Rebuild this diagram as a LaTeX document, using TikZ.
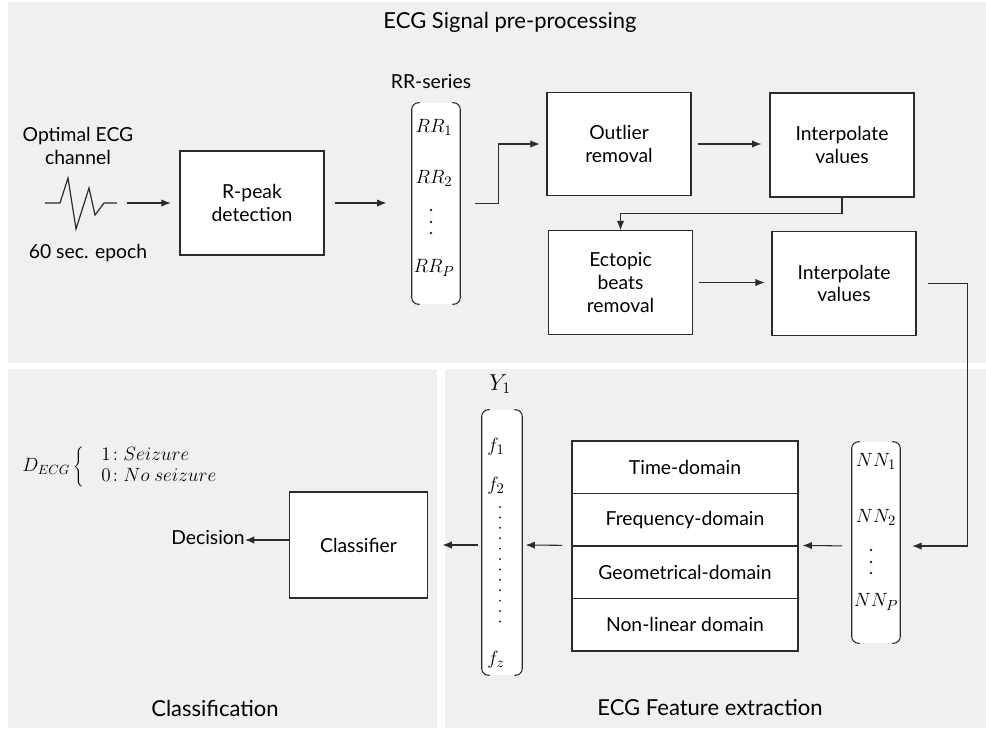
\documentclass[tikz,border=0pt]{standalone}
\usepackage{fontspec}
\setmainfont{Lato}
\usetikzlibrary{arrows.meta,calc}
\definecolor{panel}{HTML}{F0F0F0}
\definecolor{ink}{HTML}{2B2B2B}
\begin{document}
\begin{tikzpicture}[x=0.75pt,y=-0.75pt,
  font=\fontsize{14.5}{17}\selectfont,
  box/.style={draw=ink, fill=white, line width=0.9pt, align=center, inner sep=0pt, text=black},
  vec/.style={fill=white, inner sep=0pt},
  arr/.style={-{Latex[length=7pt,width=5.5pt]}, draw=ink, line width=0.8pt},
  brk/.style={draw=ink, line width=0.8pt, rounded corners=5pt},
  lbl/.style={align=center, inner sep=0pt},
  mth/.style={inner sep=0pt, font=\fontsize{15}{17}\selectfont},
  title/.style={inner sep=0pt, font=\fontsize{16.5}{20}\selectfont}]
\useasboundingbox (0,0) rectangle (986,729);
% panels
\fill[white] (0,0) rectangle (986,729);
\fill[panel] (8,2) rectangle (986,363);
\fill[panel] (8,369) rectangle (437,728);
\fill[panel] (445,369) rectangle (986,728);

% titles
\node[title] (t1) at (510,22) {ECG Signal pre-processing};
\node[title] (t2) at (215,708) {Classification};
\node[title] (t3) at (710,708) {ECG Feature extraction};

% input
\node[lbl] (opt) at (78,146) {Optimal ECG\\channel};
\node[lbl] (epoch) at (88,253) {60 sec. epoch};
\draw[ink, line width=0.9pt] (45,203) -- (60,203) -- (68,178) -- (76,229) -- (89,188) -- (95,215) -- (104,203) -- (117,203);
\coordinate (ecgout) at (127,203);

% boxes
\node[box, minimum width=108pt, minimum height=78pt] (rpeak) at (252,203) {R-peak\\detection};
\node[box, minimum width=108pt, minimum height=77pt] (outl) at (619,144) {Outlier\\removal};
\node[box, minimum width=108pt, minimum height=78pt] (int1) at (842,145) {Interpolate\\values};
\node[box, minimum width=108.5pt, minimum height=77.5pt] (ect) at (620.5,282.5) {Ectopic\\beats\\removal};
\node[box, minimum width=108pt, minimum height=77.5pt] (int2) at (844,283.5) {Interpolate\\values};
\node[box, minimum width=103pt, minimum height=79.5pt] (cls) at (358.5,545) {Classifier};

% feature table
\node[box, minimum width=169.5pt, minimum height=39.4pt] (td) at (685,467.25) {Time-domain};
\node[box, minimum width=169.5pt, minimum height=39.4pt] (fd) at (685,519.75) {Frequency-domain};
\node[box, minimum width=169.5pt, minimum height=39.4pt] (gd) at (685,572.25) {Geometrical-domain};
\node[box, minimum width=169.5pt, minimum height=39.4pt] (nd) at (685,624.75) {Non-linear domain};

% RR vector
\node[vec, minimum width=36pt, minimum height=150.75pt] (rr) at (436,203.5) {};
\node[lbl] (rrs) at (431,82) {RR-series};
\node[mth] (rr1) at (434,127) {$RR_1$};
\node[mth] (rr2) at (434,178) {$RR_2$};
\node[mth] (rrp) at (434,268) {$RR_P$};
\foreach \yy in {210,222,233} {\fill[ink] (431,\yy) circle (1.3);}

% NN vector
\node[vec, minimum width=36pt, minimum height=150.75pt] (nn) at (876,542.5) {};
\node[mth] (nn1) at (876,461) {$NN_1$};
\node[mth] (nn2) at (876,517) {$NN_2$};
\node[mth] (nnp) at (876,602) {$NN_P$};
\foreach \yy in {550,562,573} {\fill[ink] (871,\yy) circle (1.3);}

% Y vector
\node[vec, minimum width=30pt, minimum height=198.75pt] (yv) at (502,542.5) {};
\node[mth, font=\fontsize{17}{19}\selectfont] (ylab) at (500,384) {$Y_1$};
\node[mth] (f1) at (496,447) {$f_1$};
\node[mth] (f2) at (496,486) {$f_2$};
\node[mth] (fz) at (496,660) {$f_z$};
\foreach \i in {0,...,11} {\fill[ink] (500,{507+\i*10.4}) circle (1.1);}

% bracket drawing
\foreach \v in {rr,nn,yv} {
  \draw[brk] ($(\v.north west)+(8,0)$) -- (\v.north west) -- (\v.south west) -- ($(\v.south west)+(8,0)$);
  \draw[brk] ($(\v.north east)+(-8,0)$) -- (\v.north east) -- (\v.south east) -- ($(\v.south east)+(-8,0)$);
}

% decision
\node[lbl] (dec) at (208,538) {Decision};
\node[anchor=west, inner sep=0pt, font=\fontsize{14}{16}\selectfont] (decg) at (22,467)
  {$D_{ECG}\left\{\begin{array}{l}\;\;1\!:\mathnormal{Seizure}\\ \;\;0\!:\mathnormal{No\ seizure}\end{array}\right.$};

% connectors
\draw[arr, shorten >=6.5pt] (ecgout) -- (rpeak.west);
\draw[arr, shorten <=8pt, shorten >=19pt] (rpeak.east) -- (rpeak.east -| rr.west);
\draw[arr, shorten >=5pt] ($(rr.east)+(15,0)$) -- ++(23,0) |- (outl.west);
\draw[arr, shorten <=4.5pt, shorten >=6pt] (outl.east) -- (outl.east -| int1.west);
\draw[arr] (int1.south) -- ++(0,16) -| (ect.north);
\draw[arr, shorten <=4pt, shorten >=5pt] (ect.east) -- (ect.east -| int2.west);
\draw[arr, shorten >=9pt] ($(int2.east)+(11,0)$) -- ++(40,0) |- (nn.east |- 0,546);
\draw[arr, shorten <=7pt, shorten >=3pt] (nn.west |- 0,546) -- (gd.north east);
\draw[arr, shorten <=7pt, shorten >=2.5pt] (gd.north west) -- (yv.east |- 0,545);
\draw[arr, shorten <=3pt, shorten >=11pt] (yv.west |- 0,545) -- (cls.east |- 0,545);
\draw[arr] (cls.west |- 0,540) -- (dec.east |- 0,540);
\end{tikzpicture}
\end{document}
